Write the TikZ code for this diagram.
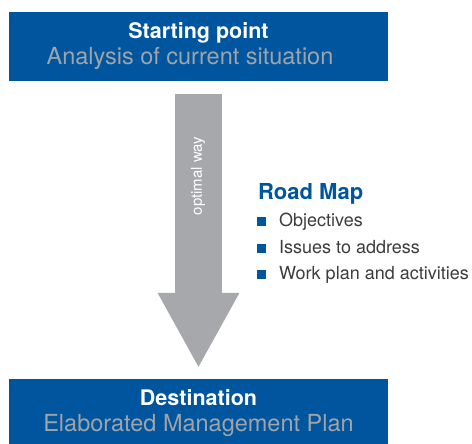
\documentclass[tikz,border=0pt]{standalone}
\usepackage{fontspec}
\setmainfont{TeX Gyre Heros}
\usetikzlibrary{arrows.meta}
\definecolor{bleuroute}{RGB}{0,85,159}
\definecolor{grisfleche}{RGB}{166,168,171}
\definecolor{grisclair}{RGB}{160,163,168}
\definecolor{grisfonce}{RGB}{60,60,60}

\begin{document}
\begin{tikzpicture}[x=1pt, y=-1pt]
\tikzset{boite/.style={fill=bleuroute, text=white, minimum width=379pt, minimum height=69pt, inner sep=0pt, align=center, font=\fontsize{22}{26}\selectfont},
  fleche/.style={draw=grisfleche, line width=47pt, -{Triangle[width=82pt, length=74pt, line width=0pt]}, shorten <=13pt, shorten >=12pt},
  puce/.style={fill=bleuroute, minimum size=9pt, inner sep=0pt},
  item/.style={anchor=base west, inner sep=0pt, text=grisfonce, font=\fontsize{18}{20}\selectfont}}
\useasboundingbox (0,0) rectangle (472,444);
\clip (0,0) rectangle (472,444);
\node[boite] (S) at (198.5,46.5) {{\fontsize{21.5}{26}\selectfont\bfseries Starting point}\\{\color{grisclair}\fontsize{23.5}{26}\selectfont Analysis of current situation\hspace*{17pt}}};
\node[boite] (D) at (198.5,413.5) {{\fontsize{21.5}{26}\selectfont\bfseries Destination}\\{\color{grisclair}\fontsize{23.5}{26}\selectfont Elaborated Management Plan}};
\draw[fleche] (S.south) -- (D.north);
\node[rotate=90, text=white, font=\fontsize{15}{17}\selectfont] (W) at (198,176) {optimal way};
\node[anchor=base west, inner sep=0pt, text=bleuroute, font=\fontsize{22}{26}\selectfont\bfseries] (R) at (258,200) {Road Map};
\node[item] (L1) at (279,226) {Objectives};
\node[item] (L2) at (279,253) {Issues to address};
\node[item] (L3) at (279,279) {Work plan and activities};
\node[puce] (B1) at (261.5,221.5) {};
\node[puce] (B2) at (261.5,248) {};
\node[puce] (B3) at (261.5,274.5) {};
\end{tikzpicture}
\end{document}
